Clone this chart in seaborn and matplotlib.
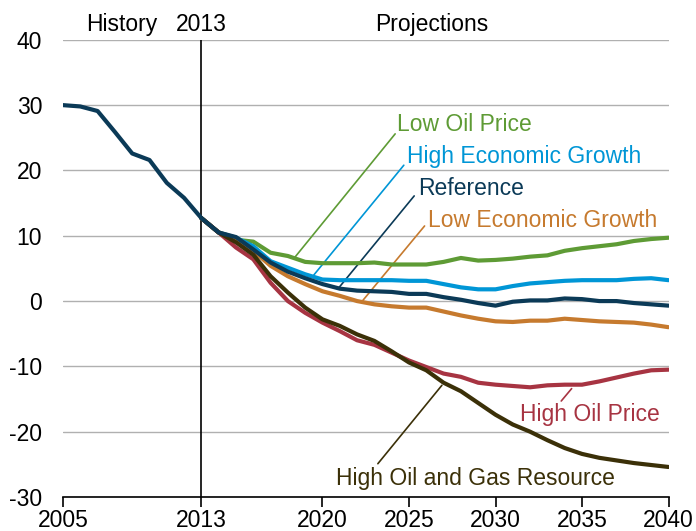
import numpy as np
import pandas as pd
import matplotlib
matplotlib.use("Agg")
import matplotlib.pyplot as plt
import seaborn as sns

# ---- data ----
hist_years = list(range(2005, 2014))
hist_values = [30.0, 29.8, 29.1, 25.9, 22.6, 21.6, 18.1, 15.8, 12.7]

proj_years = list(range(2013, 2041))
reference = [12.7, 10.5, 9.8, 7.9, 5.9, 4.5, 3.5, 2.6, 1.9, 1.6, 1.5, 1.4, 1.1, 1.1, 0.6, 0.2,
             -0.3, -0.7, -0.1, 0.1, 0.1, 0.4, 0.3, 0.0, 0.0, -0.3, -0.5, -0.7]
low_oil_price = [12.7, 10.5, 9.4, 9.1, 7.4, 6.9, 6.0, 5.8, 5.8, 5.8, 5.9, 5.6, 5.6, 5.6, 6.0, 6.6,
                 6.2, 6.3, 6.5, 6.8, 7.0, 7.7, 8.1, 8.4, 8.7, 9.2, 9.5, 9.7]
high_econ = [12.7, 10.5, 9.7, 8.4, 6.1, 5.1, 4.1, 3.3, 3.2, 3.2, 3.2, 3.2, 3.1, 3.1, 2.6, 2.1,
             1.8, 1.8, 2.3, 2.7, 2.9, 3.1, 3.2, 3.2, 3.2, 3.4, 3.5, 3.2]
low_econ = [12.7, 10.5, 9.6, 7.7, 5.4, 3.8, 2.6, 1.5, 0.8, 0.0, -0.5, -0.8, -1.0, -1.0, -1.6, -2.2,
            -2.7, -3.1, -3.2, -3.0, -3.0, -2.7, -2.9, -3.1, -3.2, -3.3, -3.6, -4.0]
high_oil_price = [12.7, 10.5, 8.2, 6.4, 2.8, 0.0, -1.8, -3.3, -4.6, -6.0, -6.7, -7.9, -9.1, -10.1,
                  -11.1, -11.6, -12.5, -12.8, -13.0, -13.2, -12.9, -12.8, -12.8, -12.3, -11.7,
                  -11.1, -10.6, -10.5]
high_resource = [12.7, 10.5, 9.0, 7.1, 3.8, 1.3, -1.0, -2.8, -3.8, -5.1, -6.1, -7.7, -9.4, -10.6,
                 -12.5, -13.8, -15.6, -17.4, -18.9, -20.0, -21.3, -22.5, -23.4, -24.0, -24.4,
                 -24.8, -25.1, -25.4]

series_names = ["Low Oil Price", "High Economic Growth", "Low Economic Growth",
                "High Oil Price", "High Oil and Gas Resource", "Reference"]
series_values = [low_oil_price, high_econ, low_econ, high_oil_price, high_resource, reference]
colors = {"Low Oil Price": "#5e9b35",
          "High Economic Growth": "#0096d6",
          "Reference": "#0b3a57",
          "Low Economic Growth": "#c67a2e",
          "High Oil Price": "#a73442",
          "High Oil and Gas Resource": "#3b3008"}

x_ticks = [2005, 2013, 2020, 2025, 2030, 2035, 2040]
y_ticks = [-30, -20, -10, 0, 10, 20, 30, 40]

rows = []
for name, vals in zip(series_names, series_values):
    for yr, v in zip(proj_years, vals):
        rows.append({"year": yr, "value": v, "series": name})
df = pd.DataFrame(rows)
hist_df = pd.DataFrame({"year": hist_years, "value": hist_values})

# ---- plot ----
sns.set_theme(style="white")
plt.rcParams['font.family'] = ['Liberation Sans', 'DejaVu Sans']
plt.rcParams['axes.unicode_minus'] = False

fig = plt.figure(figsize=(6.96, 5.31), dpi=100)
ax = fig.add_axes([0.0905, 0.064, 0.87, 0.861])

sns.lineplot(data=df, x="year", y="value", hue="series", hue_order=series_names,
             palette=colors, linewidth=3, legend=False, ax=ax, zorder=3)
sns.lineplot(data=hist_df, x="year", y="value", color=colors["Reference"], linewidth=3,
             ax=ax, zorder=4)

ax.set_xlim(2005, 2040)
ax.set_ylim(-30, 40)
ax.set_xticks(x_ticks)
ax.set_yticks(y_ticks)
ax.set_xlabel("")
ax.set_ylabel("")
ax.grid(axis="y", color="#b0b0b0", linewidth=1)
ax.grid(axis="x", visible=False)
for s in ["left", "right", "top"]:
    ax.spines[s].set_visible(False)
ax.spines["bottom"].set_color("black")
ax.spines["bottom"].set_linewidth(1.2)
ax.tick_params(axis="x", direction="out", length=7, width=1.2, color="black",
               labelsize=16.5, pad=1.5, bottom=True)
ax.tick_params(axis="y", length=0, labelsize=16.5, pad=15)
for lbl in ax.get_yticklabels() + ax.get_xticklabels():
    lbl.set_color("black")

ax.axvline(2013, color="black", linewidth=1.2, zorder=2)

fs = 16.5
ax.text(2010.45, 42.3, "History", ha="right", va="center", fontsize=fs, color="black")
ax.text(2013.0, 42.3, "2013", ha="center", va="center", fontsize=fs, color="black")
ax.text(2026.3, 42.3, "Projections", ha="center", va="center", fontsize=fs, color="black")

# labels with leader lines: (name, text_x, text_y, line_x0, line_y0, line_x1, line_y1)
labels = [
    ("Low Oil Price", 2024.3, 27.0, 2018.4, 6.7, 2024.2, 25.6),
    ("High Economic Growth", 2024.9, 22.2, 2019.5, 4.0, 2024.7, 20.8),
    ("Reference", 2025.5, 17.2, 2020.9, 1.9, 2025.3, 16.1),
    ("Low Economic Growth", 2026.1, 12.3, 2022.3, 0.0, 2025.9, 11.5),
    ("High Oil Price", 2031.4, -17.4, 2033.8, -15.3, 2034.4, -13.4),
    ("High Oil and Gas Resource", 2020.8, -27.2, 2023.2, -24.9, 2026.9, -12.9),
]
for name, tx, ty, x0, y0, x1, y1 in labels:
    ax.plot([x0, x1], [y0, y1], color=colors[name], linewidth=1.2, zorder=2)
    ax.text(tx, ty, name, ha="left", va="center", fontsize=fs, color=colors[name])

fig.savefig("out.png", dpi=100)
